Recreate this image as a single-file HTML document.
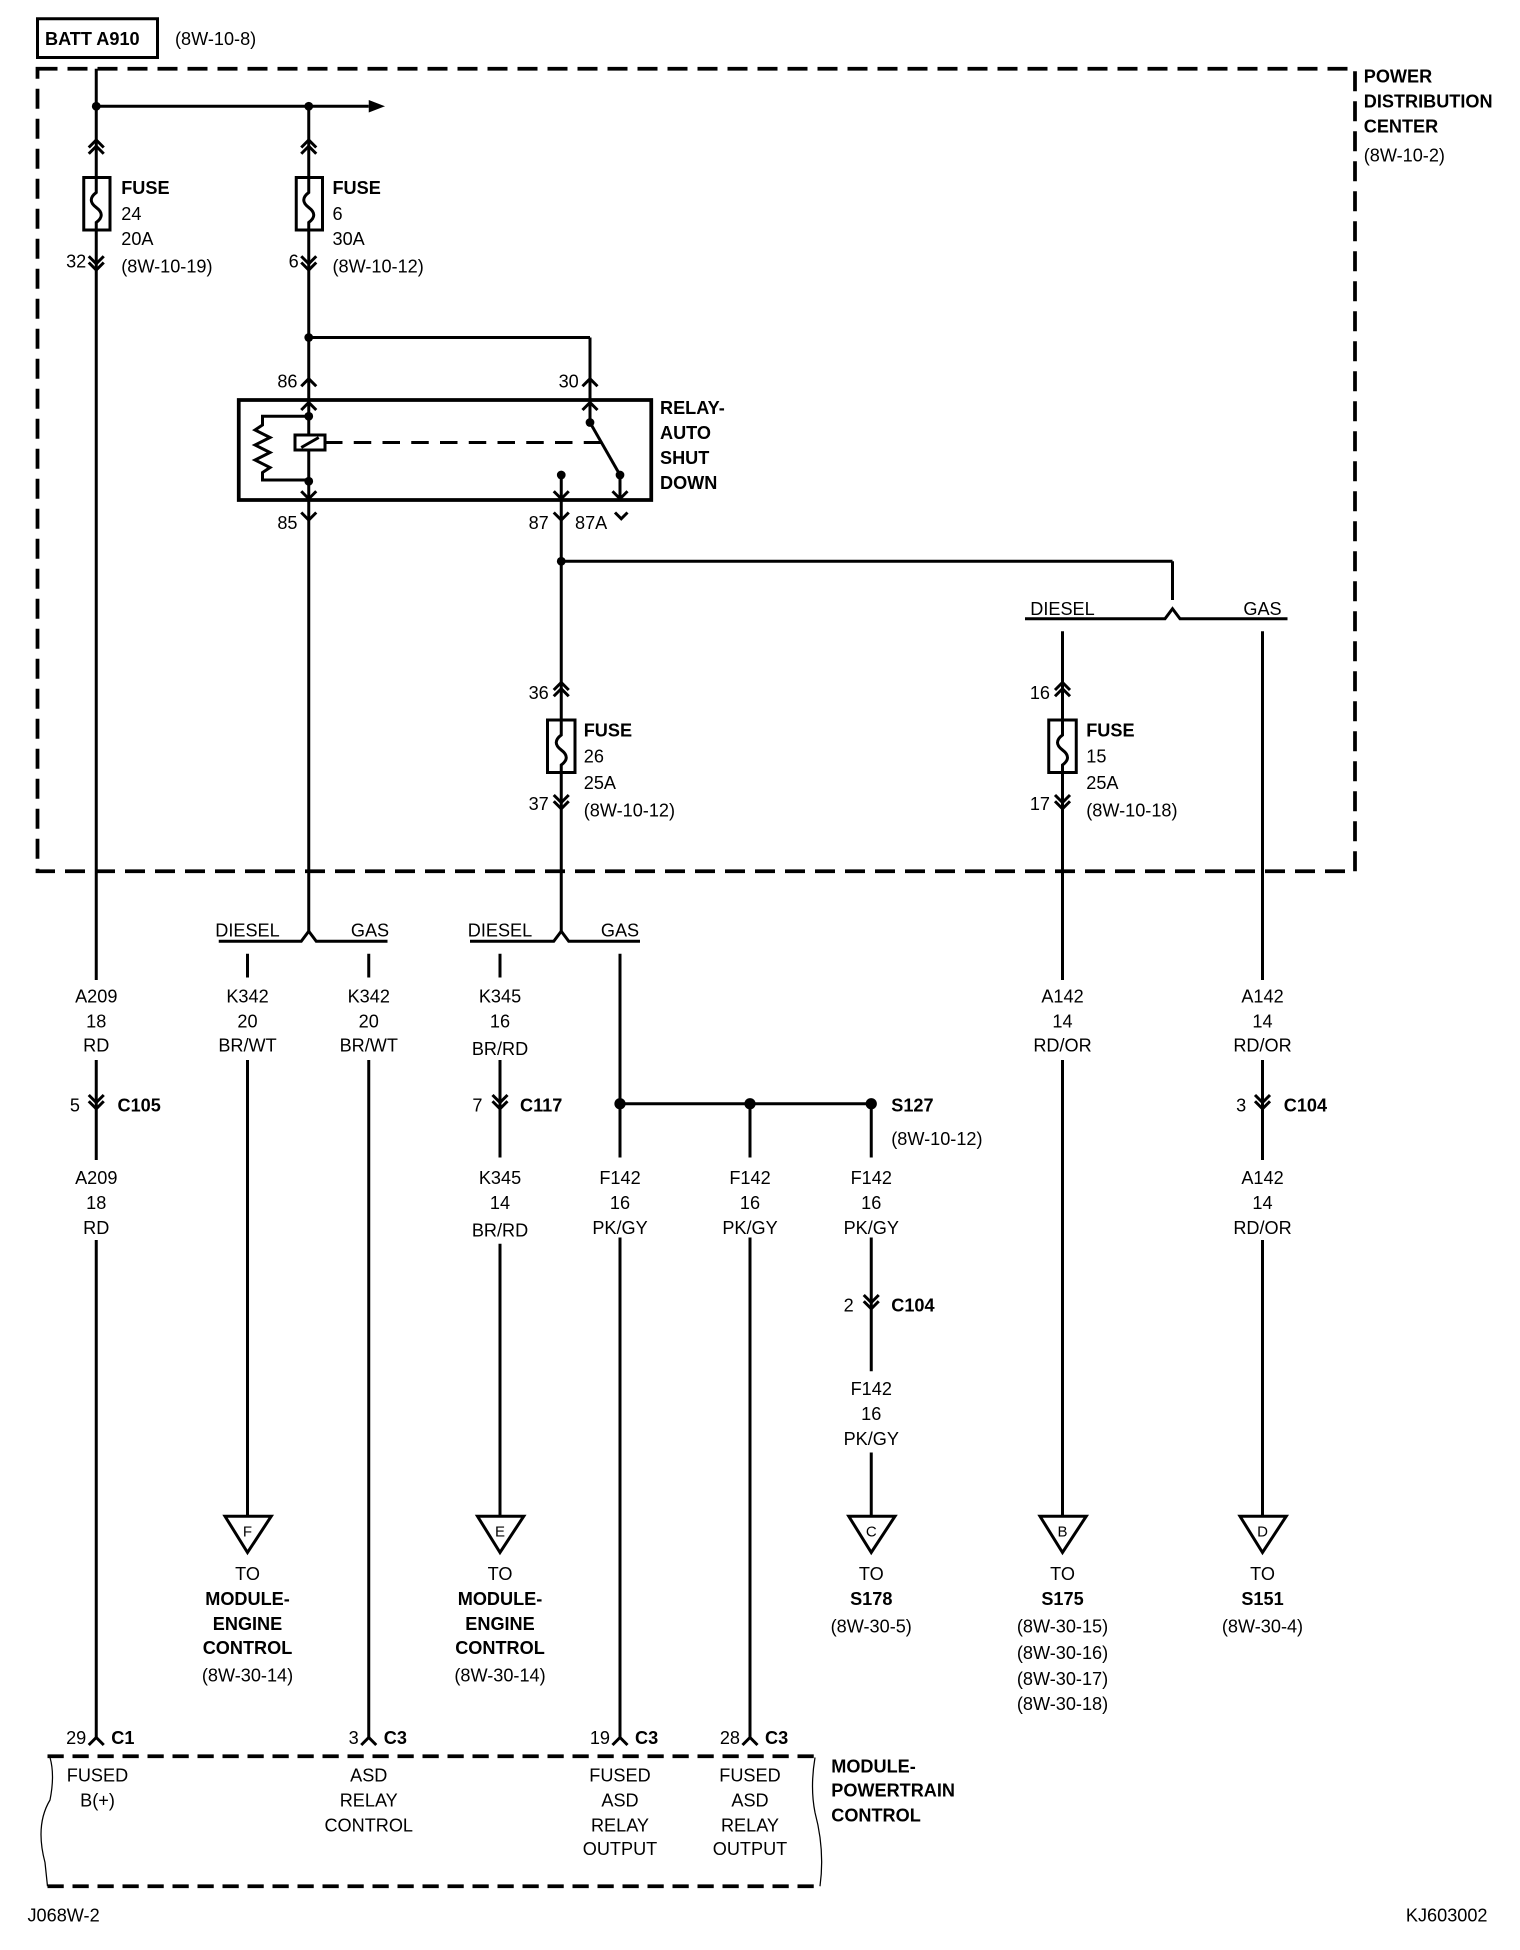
<!DOCTYPE html>
<html><head><meta charset="utf-8"><style>
html,body{margin:0;padding:0;background:#fff}
svg{display:block}
text{font-family:"Liberation Sans Narrow","Liberation Sans",sans-serif;font-size:14.5px;fill:#000}
.b{font-weight:bold}
.m{text-anchor:middle}
.e{text-anchor:end}
</style></head><body>
<svg width="1520" height="1950" viewBox="0 0 1216 1560" xmlns="http://www.w3.org/2000/svg">
<g stroke="#000" stroke-width="2.4" fill="none">
<rect x="30" y="15" width="96" height="31"/>
<rect x="30" y="55" width="1054" height="642" stroke-width="3" stroke-dasharray="16 8"/>
<line x1="77" y1="55" x2="77" y2="1390"/>
<line x1="77" y1="85" x2="295" y2="85"/>
<line x1="247" y1="85" x2="247" y2="320"/>
<line x1="247" y1="270" x2="472" y2="270"/>
<line x1="472" y1="270" x2="472" y2="338"/>
<rect x="67" y="142" width="21" height="42" fill="#fff"/>
<path d="M77 142 v12 q-8 6 0 12 q8 6 0 12 v6"/>
<rect x="237" y="142" width="21" height="42" fill="#fff"/>
<path d="M247 142 v12 q-8 6 0 12 q8 6 0 12 v6"/>
<path d="M71 118 L77 112 L83 118 M71 123 L77 117 L83 123"/>
<path d="M241 118 L247 112 L253 118 M241 123 L247 117 L253 123"/>
<path d="M71 205 L77 211 L83 205 M71 210 L77 216 L83 210"/>
<path d="M241 205 L247 211 L253 205 M241 210 L247 216 L253 210"/>
<rect x="191" y="320" width="330" height="80" stroke-width="3"/>
<path d="M241 309 L247 303 L253 309 M466 309 L472 303 L478 309"/>
<path d="M241 328 L247 322 L253 328 M466 328 L472 322 L478 328"/>
<line x1="247" y1="320" x2="247" y2="400"/>
<path d="M247 333 H210 v7 l-6 4 l12 6 l-12 6 l12 6 l-12 6 l12 6 l-6 4 v6 H247"/>
<rect x="236" y="348" width="24" height="12" fill="#fff"/>
<line x1="241" y1="358" x2="255" y2="350"/>
<line x1="260" y1="354" x2="490" y2="354" stroke-dasharray="14 9"/>
<line x1="472" y1="338" x2="496" y2="380"/>
<line x1="496" y1="380" x2="496" y2="400"/>
<line x1="449" y1="380" x2="449" y2="400"/>
<path d="M241 393 L247 399 L253 393 M443 393 L449 399 L455 393 M490 393 L496 399 L502 393"/>
<path d="M241 410 L247 416 L253 410 M443 410 L449 416 L455 410 M492 410 L497 415 L502 410"/>
<line x1="247" y1="400" x2="247" y2="745"/>
<line x1="449" y1="400" x2="449" y2="745"/>
<line x1="449" y1="449" x2="938" y2="449"/>
<line x1="938" y1="449" x2="938" y2="480"/>
<path d="M820 495 H932 L938 487 L944 495 H1030"/>
<line x1="850" y1="505" x2="850" y2="1213"/>
<line x1="1010" y1="505" x2="1010" y2="1213"/>
<rect x="438" y="576" width="22" height="42" fill="#fff"/>
<path d="M449 576 v12 q-8 6 0 12 q8 6 0 12 v6"/>
<path d="M443 552 L449 546 L455 552 M443 557 L449 551 L455 557"/>
<path d="M443 636 L449 642 L455 636 M443 641 L449 647 L455 641"/>
<rect x="839" y="576" width="22" height="42" fill="#fff"/>
<path d="M850 576 v12 q-8 6 0 12 q8 6 0 12 v6"/>
<path d="M844 552 L850 546 L856 552 M844 557 L850 551 L856 557"/>
<path d="M844 636 L850 642 L856 636 M844 641 L850 647 L856 641"/>
<path d="M175 753 H241 L247 745 L253 753 H310"/>
<line x1="198" y1="763" x2="198" y2="782"/>
<line x1="295" y1="763" x2="295" y2="782"/>
<line x1="198" y1="848" x2="198" y2="1213"/>
<line x1="295" y1="848" x2="295" y2="1390"/>
<path d="M376 753 H443 L449 745 L455 753 H512"/>
<line x1="400" y1="763" x2="400" y2="782"/>
<line x1="400" y1="848" x2="400" y2="926"/>
<line x1="400" y1="995" x2="400" y2="1213"/>
<line x1="496" y1="763" x2="496" y2="926"/>
<line x1="496" y1="883" x2="697" y2="883"/>
<line x1="600" y1="883" x2="600" y2="926"/>
<line x1="697" y1="883" x2="697" y2="926"/>
<line x1="496" y1="990" x2="496" y2="1390"/>
<line x1="600" y1="990" x2="600" y2="1390"/>
<line x1="697" y1="990" x2="697" y2="1097"/>
<line x1="697" y1="1162" x2="697" y2="1213"/>
</g>
<!-- gaps for labels -->
<g fill="#fff">
<rect x="60" y="784" width="34" height="64"/>
<rect x="60" y="928" width="34" height="64"/>
<rect x="825" y="784" width="50" height="64"/>
<rect x="985" y="784" width="50" height="64"/>
<rect x="985" y="928" width="50" height="64"/>
</g>
<g stroke="#000" stroke-width="2.4" fill="none">
<path d="M71 876 L77 882 L83 876 M71 881 L77 887 L83 881"/>
<path d="M394 876 L400 882 L406 876 M394 881 L400 887 L406 881"/>
<path d="M1004 876 L1010 882 L1016 876 M1004 881 L1010 887 L1016 881"/>
<path d="M691 1036 L697 1042 L703 1036 M691 1041 L697 1047 L703 1041"/>
<polygon points="180,1213 217,1213 198,1242"/>
<polygon points="382,1213 419,1213 400,1242"/>
<polygon points="679,1213 716,1213 697,1242"/>
<polygon points="832,1213 869,1213 850,1242"/>
<polygon points="992,1213 1029,1213 1010,1242"/>
<path d="M71 1396 L77 1390 L83 1396 M289 1396 L295 1390 L301 1396 M490 1396 L496 1390 L502 1396 M594 1396 L600 1390 L606 1396"/>
<line x1="38" y1="1405" x2="656" y2="1405" stroke-width="3" stroke-dasharray="13 7"/>
<line x1="38" y1="1509" x2="656" y2="1509" stroke-width="3" stroke-dasharray="13 7"/>
<path d="M40 1406 Q44 1420 40 1440 Q28 1460 36 1490 L38 1509" stroke-width="1"/>
<path d="M652 1406 Q648 1430 652 1450 Q660 1480 656 1509" stroke-width="1"/>
</g>
<g fill="#000">
<polygon points="295,80 308,85 295,90"/>
<circle cx="77" cy="85" r="3.5"/><circle cx="247" cy="85" r="3.5"/>
<circle cx="247" cy="270" r="3.5"/>
<circle cx="247" cy="333" r="3.5"/><circle cx="247" cy="385" r="3.5"/>
<circle cx="472" cy="338" r="3.5"/><circle cx="496" cy="380" r="3.5"/><circle cx="449" cy="380" r="3.5"/>
<circle cx="449" cy="449" r="3.5"/>
<circle cx="496" cy="883" r="4.5"/><circle cx="600" cy="883" r="4.5"/><circle cx="697" cy="883" r="4.5"/>
</g>
<text x="36" y="36" class="b">BATT A910</text>
<text x="140" y="36">(8W-10-8)</text>
<text x="1091" y="66" class="b">POWER</text>
<text x="1091" y="86" class="b">DISTRIBUTION</text>
<text x="1091" y="106" class="b">CENTER</text>
<text x="1091" y="129">(8W-10-2)</text>
<text x="97" y="155" class="b">FUSE</text><text x="97" y="176">24</text><text x="97" y="196">20A</text><text x="97" y="218">(8W-10-19)</text>
<text x="69" y="214" class="e">32</text>
<text x="266" y="155" class="b">FUSE</text><text x="266" y="176">6</text><text x="266" y="196">30A</text><text x="266" y="218">(8W-10-12)</text>
<text x="239" y="214" class="e">6</text>
<text x="238" y="310" class="e">86</text><text x="463" y="310" class="e">30</text>
<text x="528" y="331" class="b">RELAY-</text><text x="528" y="351" class="b">AUTO</text><text x="528" y="371" class="b">SHUT</text><text x="528" y="391" class="b">DOWN</text>
<text x="238" y="423" class="e">85</text><text x="439" y="423" class="e">87</text><text x="460" y="423">87A</text>
<text x="850" y="492" class="m">DIESEL</text><text x="1010" y="492" class="m">GAS</text>
<text x="467" y="589" class="b">FUSE</text><text x="467" y="610">26</text><text x="467" y="631">25A</text><text x="467" y="653">(8W-10-12)</text>
<text x="439" y="559" class="e">36</text><text x="439" y="648" class="e">37</text>
<text x="869" y="589" class="b">FUSE</text><text x="869" y="610">15</text><text x="869" y="631">25A</text><text x="869" y="653">(8W-10-18)</text>
<text x="840" y="559" class="e">16</text><text x="840" y="648" class="e">17</text>
<text x="198" y="749" class="m">DIESEL</text><text x="296" y="749" class="m">GAS</text>
<text x="400" y="749" class="m">DIESEL</text><text x="496" y="749" class="m">GAS</text>
<text x="77" y="802" class="m">A209</text><text x="77" y="822" class="m">18</text><text x="77" y="841" class="m">RD</text>
<text x="77" y="947" class="m">A209</text><text x="77" y="967" class="m">18</text><text x="77" y="987" class="m">RD</text>
<text x="198" y="802" class="m">K342</text><text x="198" y="822" class="m">20</text><text x="198" y="841" class="m">BR/WT</text>
<text x="295" y="802" class="m">K342</text><text x="295" y="822" class="m">20</text><text x="295" y="841" class="m">BR/WT</text>
<text x="400" y="802" class="m">K345</text><text x="400" y="822" class="m">16</text><text x="400" y="844" class="m">BR/RD</text>
<text x="400" y="947" class="m">K345</text><text x="400" y="967" class="m">14</text><text x="400" y="989" class="m">BR/RD</text>
<text x="496" y="947" class="m">F142</text><text x="496" y="967" class="m">16</text><text x="496" y="987" class="m">PK/GY</text>
<text x="600" y="947" class="m">F142</text><text x="600" y="967" class="m">16</text><text x="600" y="987" class="m">PK/GY</text>
<text x="697" y="947" class="m">F142</text><text x="697" y="967" class="m">16</text><text x="697" y="987" class="m">PK/GY</text>
<text x="697" y="1116" class="m">F142</text><text x="697" y="1136" class="m">16</text><text x="697" y="1156" class="m">PK/GY</text>
<text x="850" y="802" class="m">A142</text><text x="850" y="822" class="m">14</text><text x="850" y="841" class="m">RD/OR</text>
<text x="1010" y="802" class="m">A142</text><text x="1010" y="822" class="m">14</text><text x="1010" y="841" class="m">RD/OR</text>
<text x="1010" y="947" class="m">A142</text><text x="1010" y="967" class="m">14</text><text x="1010" y="987" class="m">RD/OR</text>
<text x="64" y="889" class="e">5</text><text x="94" y="889" class="b">C105</text>
<text x="386" y="889" class="e">7</text><text x="416" y="889" class="b">C117</text>
<text x="713" y="889" class="b">S127</text><text x="713" y="916">(8W-10-12)</text>
<text x="683" y="1049" class="e">2</text><text x="713" y="1049" class="b">C104</text>
<text x="997" y="889" class="e">3</text><text x="1027" y="889" class="b">C104</text>
<text x="198" y="1229" class="m" style="font-size:12px">F</text>
<text x="400" y="1229" class="m" style="font-size:12px">E</text>
<text x="697" y="1229" class="m" style="font-size:12px">C</text>
<text x="850" y="1229" class="m" style="font-size:12px">B</text>
<text x="1010" y="1229" class="m" style="font-size:12px">D</text>
<text x="198" y="1264" class="m">TO</text><text x="198" y="1284" class="m b">MODULE-</text><text x="198" y="1304" class="m b">ENGINE</text><text x="198" y="1323" class="m b">CONTROL</text><text x="198" y="1345" class="m">(8W-30-14)</text>
<text x="400" y="1264" class="m">TO</text><text x="400" y="1284" class="m b">MODULE-</text><text x="400" y="1304" class="m b">ENGINE</text><text x="400" y="1323" class="m b">CONTROL</text><text x="400" y="1345" class="m">(8W-30-14)</text>
<text x="697" y="1264" class="m">TO</text><text x="697" y="1284" class="m b">S178</text><text x="697" y="1306" class="m">(8W-30-5)</text>
<text x="850" y="1264" class="m">TO</text><text x="850" y="1284" class="m b">S175</text><text x="850" y="1306" class="m">(8W-30-15)</text><text x="850" y="1327" class="m">(8W-30-16)</text><text x="850" y="1348" class="m">(8W-30-17)</text><text x="850" y="1368" class="m">(8W-30-18)</text>
<text x="1010" y="1264" class="m">TO</text><text x="1010" y="1284" class="m b">S151</text><text x="1010" y="1306" class="m">(8W-30-4)</text>
<text x="69" y="1395" class="e">29</text><text x="89" y="1395" class="b">C1</text>
<text x="287" y="1395" class="e">3</text><text x="307" y="1395" class="b">C3</text>
<text x="488" y="1395" class="e">19</text><text x="508" y="1395" class="b">C3</text>
<text x="592" y="1395" class="e">28</text><text x="612" y="1395" class="b">C3</text>
<text x="665" y="1418" class="b">MODULE-</text><text x="665" y="1437" class="b">POWERTRAIN</text><text x="665" y="1457" class="b">CONTROL</text>
<text x="78" y="1425" class="m">FUSED</text><text x="78" y="1445" class="m">B(+)</text>
<text x="295" y="1425" class="m">ASD</text><text x="295" y="1445" class="m">RELAY</text><text x="295" y="1465" class="m">CONTROL</text>
<text x="496" y="1425" class="m">FUSED</text><text x="496" y="1445" class="m">ASD</text><text x="496" y="1465" class="m">RELAY</text><text x="496" y="1484" class="m">OUTPUT</text>
<text x="600" y="1425" class="m">FUSED</text><text x="600" y="1445" class="m">ASD</text><text x="600" y="1465" class="m">RELAY</text><text x="600" y="1484" class="m">OUTPUT</text>
<text x="22" y="1537">J068W-2</text>
<text x="1190" y="1537" class="e">KJ603002</text>
</svg>
</body></html>
